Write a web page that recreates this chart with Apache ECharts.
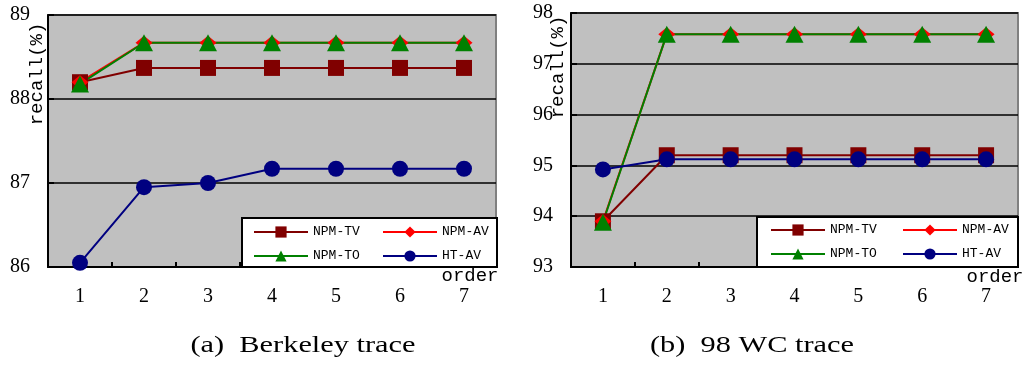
<!DOCTYPE html>
<html lang="en">

<head>
    <meta charset="UTF-8">
    <title>recall vs order</title>
    <script type="text/javascript" src="https://cdn.jsdelivr.net/npm/echarts@6/dist/echarts.min.js"></script>
    <style>
        body {
            margin: 0;
            background: #fff;
        }

        .chart {
            width: 1026px;
            height: 365px;
        }
    </style>
</head>

<body>
    <div class="chart"></div>
</body>
<script>
    // x categories (order)
    let orders = ['1', '2', '3', '4', '5', '6', '7']

    // (a) Berkeley trace
    let berkTV = [88.2, 88.37, 88.37, 88.37, 88.37, 88.37, 88.37]
    let berkAV = [88.2, 88.67, 88.67, 88.67, 88.67, 88.67, 88.67]
    let berkTO = [88.18, 88.67, 88.67, 88.67, 88.67, 88.67, 88.67]
    let berkHT = [86.05, 86.95, 87.0, 87.17, 87.17, 87.17, 87.17]

    // (b) 98 WC trace
    let wcTV = [93.9, 95.2, 95.2, 95.2, 95.2, 95.2, 95.2]
    let wcAV = [93.9, 97.58, 97.58, 97.58, 97.58, 97.58, 97.58]
    let wcTO = [93.88, 97.58, 97.58, 97.58, 97.58, 97.58, 97.58]
    let wcHT = [94.92, 95.12, 95.12, 95.12, 95.12, 95.12, 95.12]

    let styles = {
        'NPM-TV': { color: '#800000', symbol: 'rect', size: 16 },
        'NPM-AV': { color: '#ff0000', symbol: 'diamond', size: [17, 14] },
        'NPM-TO': { color: '#008000', symbol: 'triangle', size: [18, 17] },
        'HT-AV': { color: '#000080', symbol: 'circle', size: 16 }
    }

    let serif = 'Liberation Serif'
    let mono = 'Liberation Mono'

    function makeSeries(name, data, idx) {
        let s = styles[name]
        return {
            name: name,
            type: 'line',
            xAxisIndex: idx,
            yAxisIndex: idx,
            data: data,
            symbol: s.symbol,
            symbolSize: s.size,
            showAllSymbol: true,
            animation: false,
            itemStyle: { color: s.color, opacity: 1 },
            lineStyle: { color: s.color, width: 2 }
        }
    }

    function xAxis(idx) {
        return {
            gridIndex: idx,
            type: 'category',
            data: orders,
            boundaryGap: true,
            axisLine: { lineStyle: { color: '#000', width: 2 } },
            axisTick: { show: true, inside: true, length: 5, lineStyle: { color: '#000', width: 2 } },
            axisLabel: { color: '#000', fontFamily: serif, fontSize: 20, margin: 20 },
            splitLine: { show: false }
        }
    }

    function yAxis(idx, min, max) {
        return {
            gridIndex: idx,
            type: 'value',
            min: min,
            max: max,
            interval: 1,
            axisLine: { show: true, lineStyle: { color: '#000', width: 2 } },
            axisTick: { show: true, inside: true, length: 6, lineStyle: { color: '#000', width: 2 } },
            axisLabel: { color: '#000', fontFamily: serif, fontSize: 20, margin: 18, padding: [4, 0, 0, 0] },
            splitLine: { show: true, lineStyle: { color: '#000', width: 1.5 } }
        }
    }

    function legend(left, top, names) {
        return {
            orient: 'vertical',
            left: left,
            top: top,
            padding: 0,
            itemGap: 10,
            itemWidth: 54,
            itemHeight: 14,
            z: 20,
            data: names,
            selectedMode: false,
            textStyle: { fontFamily: mono, fontSize: 13, color: '#000', lineHeight: 14 }
        }
    }

    function txt(x, y, text, font, rot, sx) {
        return {
            type: 'text',
            x: x,
            y: y,
            rotation: rot || 0,
            scaleX: sx || 1,
            z: 30,
            style: { text: text, font: font, fill: '#000', align: 'center', verticalAlign: 'middle' }
        }
    }

    let mCharts = echarts.init(document.querySelector('.chart'))

    let option = {
        animation: false,
        backgroundColor: '#fff',
        grid: [{
            left: 48, top: 15, width: 448, height: 252,
            show: true, backgroundColor: '#c0c0c0', borderColor: '#808080', borderWidth: 2
        }, {
            left: 571, top: 13, width: 447, height: 254,
            show: true, backgroundColor: '#c0c0c0', borderColor: '#808080', borderWidth: 2
        }],
        xAxis: [xAxis(0), xAxis(1)],
        yAxis: [yAxis(0, 86, 89), yAxis(1, 93, 98)],
        legend: [
            legend(253, 225, ['NPM-TV', 'NPM-TO']),
            legend(382, 225, ['NPM-AV', 'HT-AV']),
            legend(770, 223, ['NPM-TV', 'NPM-TO']),
            legend(902, 223, ['NPM-AV', 'HT-AV'])
        ],
        graphic: [
            // legend boxes
            { type: 'rect', z: 10, shape: { x: 242, y: 218, width: 255, height: 49 }, style: { fill: '#fff', stroke: '#000', lineWidth: 2 } },
            { type: 'rect', z: 10, shape: { x: 757, y: 217, width: 261, height: 50 }, style: { fill: '#fff', stroke: '#000', lineWidth: 2 } },
            // axis names
            txt(37, 74, 'recall(%)', '19px ' + mono, Math.PI / 2),
            txt(558, 67, 'recall(%)', '19px ' + mono, Math.PI / 2),
            txt(470, 276, 'order', '19px ' + mono),
            txt(995, 277, 'order', '19px ' + mono),
            // captions
            txt(303, 346, '(a)  Berkeley trace', '23px ' + serif, 0, 1.32),
            txt(752, 346, '(b)  98 WC trace', '23px ' + serif, 0, 1.32)
        ],
        series: [
            makeSeries('NPM-TV', berkTV, 0),
            makeSeries('NPM-AV', berkAV, 0),
            makeSeries('NPM-TO', berkTO, 0),
            makeSeries('HT-AV', berkHT, 0),
            makeSeries('NPM-TV', wcTV, 1),
            makeSeries('NPM-AV', wcAV, 1),
            makeSeries('NPM-TO', wcTO, 1),
            makeSeries('HT-AV', wcHT, 1)
        ]
    }
    mCharts.setOption(option)
</script>

</html>
